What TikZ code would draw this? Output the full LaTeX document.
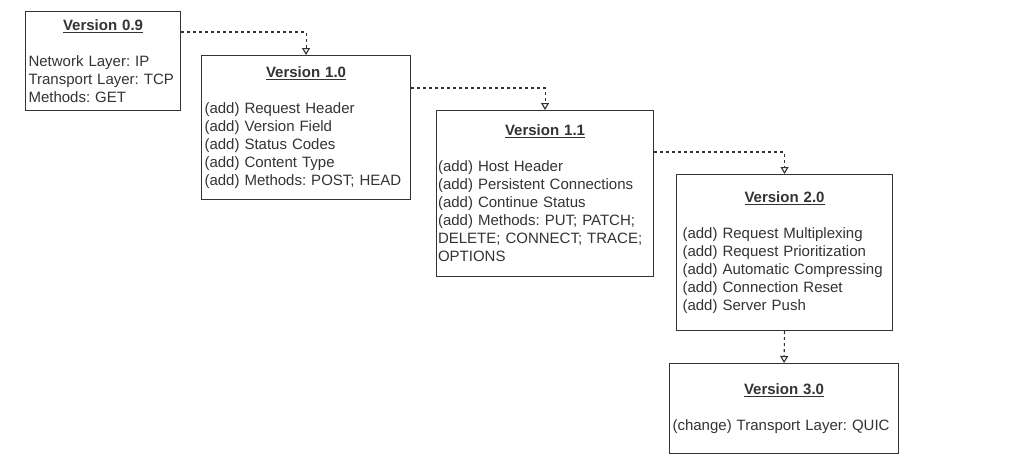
\documentclass[tikz,border=0pt]{standalone}
\usepackage{fontspec}
\setmainfont{Liberation Sans}
\usetikzlibrary{arrows.meta}
\definecolor{inkgray}{HTML}{333333}
\newcommand{\vtitle}[1]{\makebox[\hsize]{\underline{\textbf{#1}}}\\[18pt]}
\frenchspacing

\begin{document}
\begin{tikzpicture}[x=1pt, y=-1pt,
  verbox/.style={draw=inkgray, text=inkgray, line width=1.1pt, anchor=north west,
    align=left, inner xsep=3pt, inner ysep=0pt, font=\fontsize{15pt}{18pt}\selectfont},
  link/.style={draw=inkgray, line width=1.1pt, dash pattern=on 3pt off 3pt,
    -{Triangle[open, length=7pt, width=8pt]}}]
\useasboundingbox (0,0) rectangle (1036,464);

\node (v09) at (25,11) [verbox, text width=149pt, minimum height=99pt]
  {\vtitle{Version 0.9}Network Layer: IP\\Transport Layer: TCP\\Methods: GET};
\node (v10) at (201,55) [verbox, text width=203pt, minimum height=144pt]
  {\vtitle{Version 1.0}(add) Request Header\\(add) Version Field\\(add) Status Codes\\
   (add) Content Type\\(add) Methods: POST; HEAD};
\node (v11) at (436,110) [verbox, inner xsep=1.5pt, text width=214pt, minimum height=166pt]
  {\vtitle{Version 1.1}(add) Host Header\\(add) Persistent Connections\\(add) Continue Status\\
   (add) Methods: PUT; PATCH;\\DELETE; CONNECT; TRACE;\\OPTIONS};
\node (v20) at (676,174) [verbox, inner xsep=6pt, text width=204pt, minimum height=156pt]
  {\vtitle{Version 2.0}(add) Request Multiplexing\\(add) Request Prioritization\\
   (add) Automatic Compressing\\(add) Connection Reset\\(add) Server Push};
\node (v30) at (669,363) [verbox, text width=223pt, minimum height=90pt]
  {\vtitle{Version 3.0}(change) Transport Layer: QUIC};

\draw[link] ([yshift=-21pt]v09.north east) -| (v10.north);
\draw[link] ([yshift=-33pt]v10.north east) -| (v11.north);
\draw[link] ([yshift=-42pt]v11.north east) -| (v20.north);
\draw[link] (v20.south) -- (v30.north);
\end{tikzpicture}
\end{document}
